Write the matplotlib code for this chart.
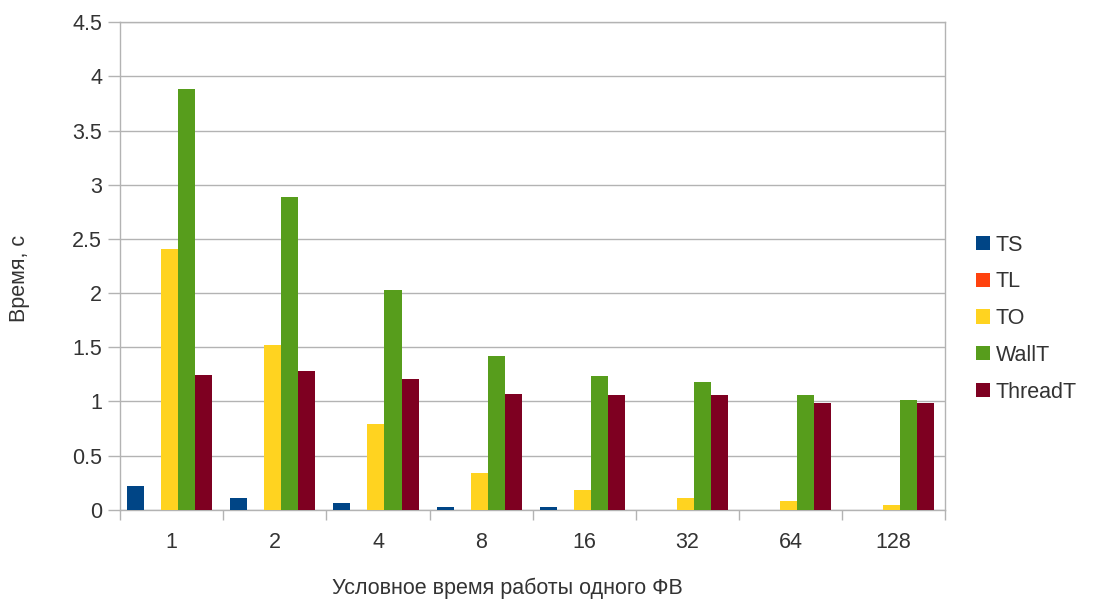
import numpy as np
import matplotlib
matplotlib.use("Agg")
import matplotlib.pyplot as plt

plt.rcParams['font.family'] = ['Liberation Sans', 'DejaVu Sans']

# conditional work time of one FB
categories = ["1", "2", "4", "8", "16", "32", "64", "128"]
ts = [0.215, 0.113, 0.062, 0.025, 0.025, 0.0, 0.0, 0.0]
tl = [0.0, 0.0, 0.0, 0.0, 0.0, 0.0, 0.0, 0.0]
to = [2.41, 1.52, 0.79, 0.338, 0.178, 0.113, 0.077, 0.043]
wall_t = [3.88, 2.885, 2.03, 1.42, 1.23, 1.175, 1.055, 1.015]
thread_t = [1.245, 1.276, 1.208, 1.07, 1.055, 1.055, 0.985, 0.985]

series = [("TS", ts, "#004586"), ("TL", tl, "#ff420e"), ("TO", to, "#ffd320"),
          ("WallT", wall_t, "#579d1c"), ("ThreadT", thread_t, "#7e0021")]

fig = plt.figure(figsize=(11.03, 5.99), dpi=100)
ax = fig.add_axes([0.109, 0.149, 0.748, 0.814])

x = np.arange(len(categories))
bw = 0.165
for i, (name, vals, col) in enumerate(series):
    ax.bar(x + (i - 2) * bw - 0.02, vals, width=bw, color=col, label=name, zorder=3)

grey = "#b3b3b3"
txt = "#333333"
ax.set_xlim(-0.5, len(categories) - 0.5)
ax.set_ylim(0, 4.5)
ax.set_yticks(np.arange(0, 4.51, 0.5))
ax.set_yticklabels(["0", "0.5", "1", "1.5", "2", "2.5", "3", "3.5", "4", "4.5"])
ax.set_xticks(x)
ax.set_xticklabels(categories)
ax.set_xticks(np.arange(-0.5, len(categories), 1), minor=True)
ax.tick_params(axis="x", which="major", length=0, pad=16, labelsize=15.5, labelcolor=txt)
ax.tick_params(axis="x", which="minor", length=7, color=grey, width=1)
ax.tick_params(axis="y", length=9, color=grey, width=1, pad=4, labelsize=15.5, labelcolor=txt)
ax.grid(axis="y", color=grey, linewidth=1, zorder=0)
for sp in ax.spines.values():
    sp.set_color(grey)
    sp.set_linewidth(1)

ax.set_xlabel("Условное время работы одного ФВ", fontsize=15.5, color=txt)
ax.set_ylabel("Время, с", fontsize=15.5, color=txt)
ax.xaxis.set_label_coords(0.469, -0.140)
ax.yaxis.set_label_coords(-0.109, 0.475)

ax.legend(loc="center left", bbox_to_anchor=(1.014, 0.392), frameon=False, fontsize=15.5,
          handlelength=0.65, handleheight=0.65, handletextpad=0.25, labelspacing=0.73,
          labelcolor=txt)

fig.savefig("out.png", dpi=100)
